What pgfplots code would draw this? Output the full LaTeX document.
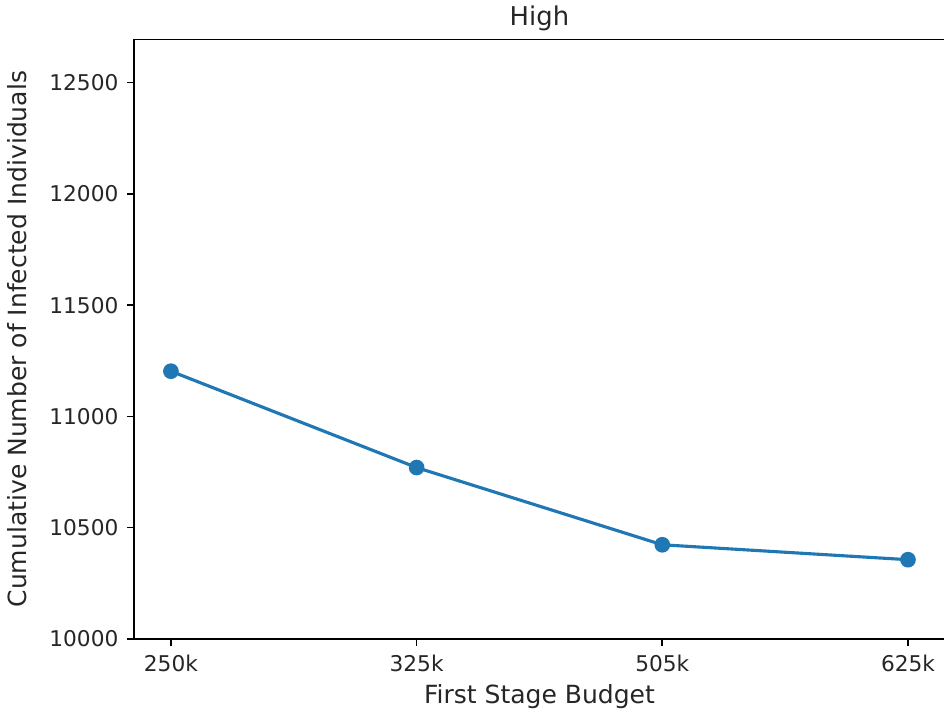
\documentclass[border=0pt]{standalone}
\usepackage{pgfplots}
\pgfplotsset{compat=1.18}
\usepackage{fontspec}
\setmainfont{DejaVu Sans}
\definecolor{mplblue}{HTML}{1F77B4}
\definecolor{txt}{HTML}{262626}
\begin{document}
\begin{tikzpicture}
\begin{axis}[
  name=ax,
  scale only axis,
  width=388.8pt, height=287.5pt,
  xmin=-0.15, xmax=3.15,
  ymin=10000, ymax=12694,
  xtick={0,1,2,3},
  xticklabels={250k,325k,505k,625k},
  ytick={10000,10500,11000,11500,12000,12500},
  scaled y ticks=false,
  /pgf/number format/.cd, assume math mode=true, set thousands separator={}, fixed,
  /pgfplots/.cd,
  tick align=outside,
  tick pos=left,
  major tick length=3.5pt,
  every tick/.style={line width=0.8pt, black},
  axis line style={line width=0.8pt},
  tick label style={font=\fontsize{10.4}{12}\selectfont, text=txt},
  xticklabel style={yshift=-0.5pt},
  yticklabel style={xshift=-0.5pt},
  xlabel={First Stage Budget},
  ylabel={Cumulative Number of Infected Individuals},
  every axis x label/.style={at={([yshift=-31.2pt]axis description cs:0.5,0)}, anchor=base, font=\fontsize{12}{14}\selectfont, text=txt},
  every axis y label/.style={at={([xshift=-51.4pt]axis description cs:0,0.5)}, anchor=base, rotate=90, font=\fontsize{12}{14}\selectfont, text=txt},
  title={High},
  every axis title/.style={at={([yshift=6.9pt]axis description cs:0.5,1)}, anchor=base, font=\fontsize{12.4}{14}\selectfont, text=txt},
  clip=false,
]
\addplot[color=mplblue, line width=1.5pt, mark=*, mark size=3pt, mark options={fill=mplblue, draw=mplblue}]
  coordinates {(0,11203) (1,10770) (2,10423) (3,10356)};
\end{axis}
\pgfresetboundingbox
\path ([xshift=-64.3pt, yshift=-35.5pt]ax.south west) rectangle ([xshift=-0.4pt, yshift=18.9pt]ax.north east);
\end{tikzpicture}
\end{document}
